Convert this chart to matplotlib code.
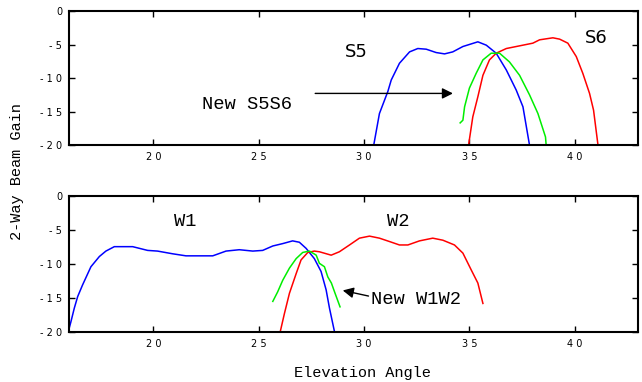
import matplotlib
matplotlib.use('Agg')
import matplotlib.pyplot as plt

# top panel: S5, S6 and the new S5S6 beam
s5_angle = [30.46, 30.73, 31.13, 31.29, 31.68, 32.16, 32.55, 32.95, 33.42, 33.82,
            34.21, 34.69, 35.40, 35.80, 36.27, 36.75, 37.22, 37.54, 37.85]
s5_gain = [-20, -15.3, -12.0, -10.3, -7.8, -6.1, -5.6, -5.7, -6.2, -6.4,
           -6.1, -5.3, -4.6, -5.1, -6.3, -8.8, -11.8, -14.3, -20]

s6_angle = [34.96, 35.16, 35.40, 35.64, 35.95, 36.27, 36.75, 37.38, 38.01, 38.33,
            38.96, 39.28, 39.67, 40.07, 40.38, 40.70, 40.89, 41.10]
s6_gain = [-20, -15.8, -12.8, -9.6, -7.3, -6.3, -5.6, -5.2, -4.8, -4.3,
           -4.0, -4.2, -4.8, -6.8, -9.3, -12.3, -14.8, -20]

s5s6_angle = [34.56, 34.69, 34.77, 35.00, 35.32, 35.64, 36.03, 36.43, 36.90, 37.38,
              37.85, 38.25, 38.61, 38.64]
s5s6_gain = [-16.7, -16.3, -14.3, -11.5, -9.3, -7.3, -6.3, -6.3, -7.6, -9.6,
             -12.5, -15.3, -18.8, -20]

# bottom panel: W1, W2 and the new W1W2 beam
w1_angle = [15.96, 16.09, 16.25, 16.41, 16.64, 17.04, 17.44, 17.75, 18.15, 19.02,
            19.73, 20.20, 20.92, 21.55, 22.82, 23.45, 24.08, 24.72, 25.19, 25.67,
            26.14, 26.61, 26.93, 27.25, 27.64, 27.96, 28.20, 28.36, 28.60]
w1_gain = [-20, -18.5, -16.5, -14.8, -13.1, -10.4, -8.9, -8.1, -7.45, -7.45,
           -8.0, -8.1, -8.5, -8.8, -8.8, -8.1, -7.9, -8.1, -8.0, -7.35,
           -7.0, -6.6, -6.8, -7.7, -9.2, -11.1, -13.8, -16.5, -20]

w2_angle = [26.02, 26.22, 26.46, 26.78, 27.01, 27.33, 27.64, 27.88, 28.44, 28.83,
            29.31, 29.78, 30.26, 30.73, 31.21, 31.68, 32.08, 32.63, 33.26, 33.74,
            34.29, 34.69, 35.09, 35.40, 35.64]
w2_gain = [-20, -17.3, -14.3, -11.4, -9.4, -8.3, -8.1, -8.2, -8.7, -8.2,
           -7.2, -6.2, -5.9, -6.2, -6.7, -7.2, -7.2, -6.6, -6.2, -6.5,
           -7.2, -8.4, -10.9, -12.8, -15.8]

w1w2_angle = [25.67, 25.90, 26.14, 26.46, 26.78, 27.09, 27.41, 27.73, 27.88, 28.12,
              28.28, 28.45, 28.60, 28.86]
w1w2_gain = [-15.5, -14.1, -12.4, -10.6, -9.2, -8.3, -8.1, -8.7, -9.9, -10.4,
             -11.9, -12.8, -14.1, -16.3]

x_ticks = [20, 25, 30, 35, 40]
y_ticks = [0, -5, -10, -15, -20]

mono = 'Liberation Mono'


def spaced(v):
    return ' '.join(str(v))


def style_axes(ax):
    ax.set_xlim(16, 43)
    ax.set_ylim(-20, 0)
    ax.set_xticks(x_ticks)
    ax.set_xticklabels([spaced(t) for t in x_ticks], fontsize=7)
    ax.set_yticks(y_ticks)
    ax.set_yticklabels([spaced(t) for t in y_ticks], fontsize=7)
    ax.tick_params(direction='in', top=True, right=True, length=4, width=1, pad=5)
    for s in ax.spines.values():
        s.set_linewidth(1.5)


fig = plt.figure(figsize=(6.42, 3.82), dpi=100)
ax1 = fig.add_axes([0.1075, 0.6204, 0.8863, 0.3508])
ax2 = fig.add_axes([0.1075, 0.1309, 0.8863, 0.3560])

ax1.plot(s5_angle, s5_gain, color='blue', lw=1.1)
ax1.plot(s6_angle, s6_gain, color='red', lw=1.1)
ax1.plot(s5s6_angle, s5s6_gain, color='#00ee00', lw=1.1)
style_axes(ax1)
ax1.text(29.1, -6.1, 'S5', fontsize=13, va='center', family='DejaVu Sans')
ax1.text(40.5, -4.0, 'S6', fontsize=13, va='center', family='DejaVu Sans')
ax1.text(22.3, -14.0, 'New S5S6', fontsize=13.5, va='center', family=mono)
ax1.annotate('', xy=(34.35, -12.3), xytext=(27.55, -12.3),
             arrowprops=dict(arrowstyle='-|>', color='black', lw=1,
                             mutation_scale=16))

ax2.plot(w1_angle, w1_gain, color='blue', lw=1.1)
ax2.plot(w2_angle, w2_gain, color='red', lw=1.1)
ax2.plot(w1w2_angle, w1w2_gain, color='#00ee00', lw=1.1)
style_axes(ax2)
ax2.text(21.0, -3.8, 'W1', fontsize=13.5, va='center', family=mono)
ax2.text(31.1, -3.8, 'W2', fontsize=13.5, va='center', family=mono)
ax2.text(30.35, -15.2, 'New W1W2', fontsize=13.5, va='center', family=mono)
ax2.annotate('', xy=(28.86, -13.8), xytext=(30.34, -14.8),
             arrowprops=dict(arrowstyle='-|>', color='black', lw=1,
                             mutation_scale=16))

fig.text(0.027, 0.55, '2-Way Beam Gain', rotation=90, fontsize=11,
         family=mono, ha='center', va='center')
fig.text(0.564, 0.024, 'Elevation Angle', fontsize=11, family=mono,
         ha='center', va='center')

fig.savefig('out.png', dpi=100)
